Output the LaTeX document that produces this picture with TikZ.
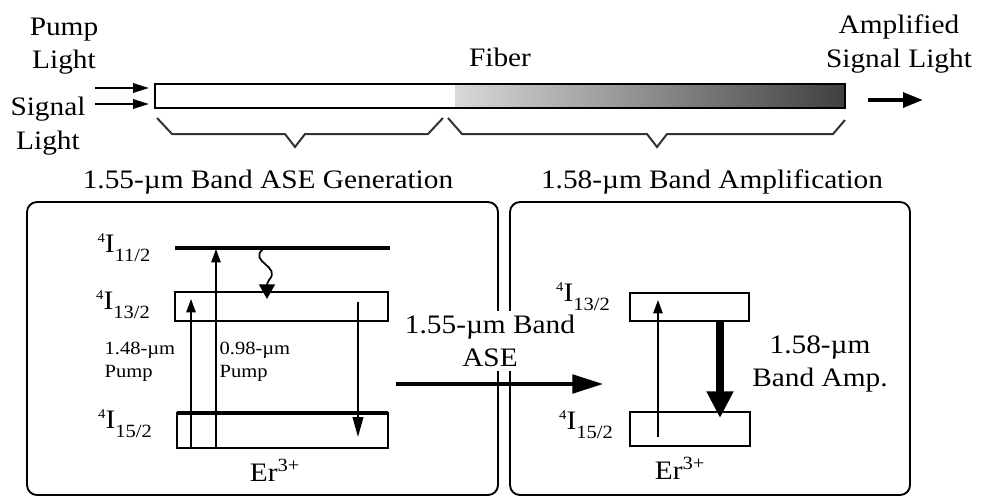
\documentclass[tikz,border=0pt]{standalone}
\usepackage{fontspec}
\setmainfont{Liberation Serif}[FakeStretch=1.1]
\usetikzlibrary{arrows.meta}

\newcommand\erlevel[2]{\raisebox{7pt}{\fontsize{10}{10}\selectfont#1}I\raisebox{-7pt}{\fontsize{14}{14}\selectfont#2}}

\tikzset{
  lbl/.style={font=\fontsize{20}{25}\selectfont,align=center,inner sep=1pt},
  smalllbl/.style={font=\fontsize{14}{17}\selectfont,align=left,inner sep=1pt,anchor=west},
  panel/.style={line width=1.4pt,rounded corners=7.5pt},
  lvl/.style={line width=1.8pt},
  thinarr/.style={line width=1.3pt,-{Triangle[length=10pt,width=7pt]}},
  inarr/.style={line width=1.7pt,-{Triangle[length=12pt,width=7pt]}},
}

\begin{document}
\begin{tikzpicture}[x=0.75pt,y=-0.75pt]
\useasboundingbox (0,0) rectangle (983,497);

% fiber
\shade[left color=gray!30,right color=black!75] (455,84) rectangle (845,108);
\draw[line width=1.8pt] (155,84) rectangle (845,108);
\node[lbl] (fiber) at (500,57) {Fiber};
\draw[line width=1.5pt,black!80] (157,118) -- (172,134) -- (285,134) -- (295,147) -- (305,134) -- (428,134) -- (443,118);
\draw[line width=1.5pt,black!80] (448,118) -- (462,134) -- (647,134) -- (657,147) -- (667,134) -- (833,134) -- (845,120);

\node[lbl] (pump) at (64,46) {Pump\\Light};
\node[lbl] (signal) at (48,126) {Signal\\Light};
\node[lbl] (amplified) at (899,44) {Amplified\\Signal Light};
\coordinate (pumpin) at (95,88);
\coordinate (pumpend) at (149,88);
\coordinate (signalin) at (95,104);
\coordinate (signalend) at (149,104);
\coordinate (outstart) at (868,100);
\coordinate (outend) at (923,100);
\draw[inarr] (pumpin) -- (pumpend);
\draw[inarr] (signalin) -- (signalend);
\draw[line width=3pt,-{Triangle[length=15pt,width=11pt]}] (outstart) -- (outend);

% panels
\node[lbl] (asetitle) at (268,182) {1.55-µm Band ASE Generation};
\node[lbl] (amptitle) at (712,182) {1.58-µm Band Amplification};
\draw[panel] (27,202) rectangle (498,495);
\draw[panel] (510,202) rectangle (910,495);

% left levels
\draw[line width=2.4pt] (175,248) -- (390,248);
\draw[lvl] (175,292) rectangle (388,321);
\draw[lvl] (177,413) rectangle (388,448);
\draw[line width=3pt] (177,413) -- (388,413);
\node[lbl] (l11) at (124,248) {\erlevel{4}{11/2}};
\node[lbl] (l13) at (123,305) {\erlevel{4}{13/2}};
\node[lbl] (l15) at (125,424) {\erlevel{4}{15/2}};
\node[lbl] (erleft) at (275,470) {Er\textsuperscript{3+}};

\coordinate (p148a) at (191,448);
\coordinate (p148b) at (191,299);
\coordinate (p098a) at (216,448);
\coordinate (p098b) at (216,249);
\coordinate (wavtop) at (263,249);
\coordinate (wavbot) at (267,299);
\coordinate (asetop) at (358,302);
\coordinate (asebot) at (358,437);
\draw[thinarr] (p148a) -- (p148b);
\draw[thinarr] (p098a) -- (p098b);
\draw[line width=1.3pt,-{Triangle[length=11pt,width=12pt]}] (wavtop) .. controls (248,262) and (282,266) .. (269,280) .. controls (266,284) and (267,290) .. (wavbot);
\draw[line width=1.3pt,-{Triangle[length=15pt,width=8pt]}] (asetop) -- (asebot);
\node[smalllbl] (p148) at (103,362) {1.48-µm\\Pump};
\node[smalllbl] (p098) at (218,362) {0.98-µm\\Pump};

% ASE between panels
\node[lbl,fill=white,inner sep=3pt] (ase) at (490,341) {1.55-µm Band\\ASE};
\coordinate (asestart) at (396,384);
\coordinate (aseend) at (603,384);
\draw[line width=2.4pt,-{Triangle[length=23pt,width=14pt]}] (asestart) -- (aseend);

% right levels
\draw[lvl] (630,293) rectangle (749,321);
\draw[lvl] (630,412) rectangle (750,446);
\draw[line width=2pt] (630,412) -- (750,412);
\node[lbl] (r13) at (583,297) {\erlevel{4}{13/2}};
\node[lbl] (r15) at (586,425) {\erlevel{4}{15/2}};
\node[lbl] (erright) at (680,468) {Er\textsuperscript{3+}};
\coordinate (absbot) at (658,437);
\coordinate (abstop) at (658,300);
\coordinate (emtop) at (720,321);
\coordinate (embot) at (720,418);
\draw[thinarr] (absbot) -- (abstop);
\draw[line width=6pt,-{Triangle[length=20pt,width=19pt]}] (emtop) -- (embot);
\node[lbl] (bandamp) at (820,364) {1.58-µm\\Band Amp.};
\end{tikzpicture}
\end{document}
